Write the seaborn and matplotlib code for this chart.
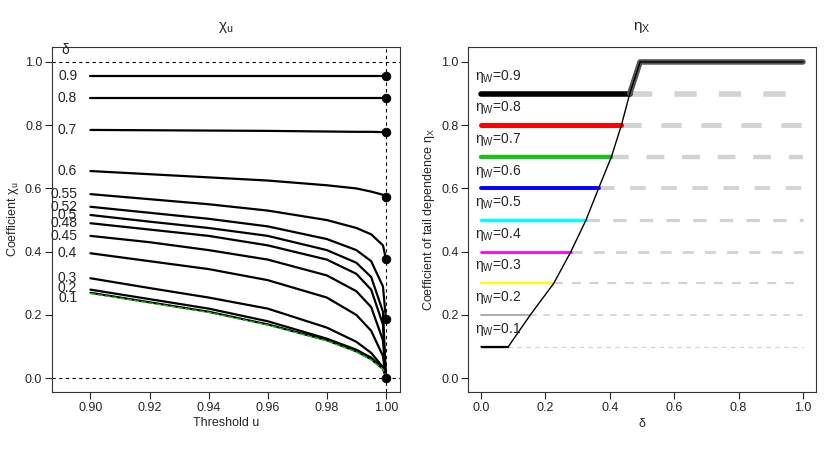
import matplotlib
matplotlib.use('Agg')
import matplotlib.pyplot as plt
import seaborn as sns

sns.set_theme(style='ticks')
plt.rcParams.update({'font.family': 'Liberation Sans', 'mathtext.fontset': 'custom',
                     'mathtext.rm': 'Liberation Sans', 'mathtext.it': 'Liberation Sans:italic',
                     'font.size': 9})

# ─── Data: left panel (chi_u vs threshold u) ─────────────────────────────────
u_grid = [0.9, 0.92, 0.94, 0.96, 0.98, 0.99, 0.995, 0.999, 1.0]
delta_labels = ['0.1', '0.2', '0.3', '0.4', '0.45', '0.48', '0.5', '0.52', '0.55', '0.6', '0.7', '0.8', '0.9']
chi_curves = [
    [0.270, 0.240, 0.210, 0.170, 0.120, 0.085, 0.060, 0.030, 0.010],
    [0.280, 0.250, 0.220, 0.180, 0.125, 0.090, 0.065, 0.030, 0.010],
    [0.316, 0.285, 0.255, 0.220, 0.160, 0.115, 0.080, 0.035, 0.000],
    [0.395, 0.370, 0.345, 0.310, 0.255, 0.200, 0.150, 0.070, 0.000],
    [0.450, 0.430, 0.405, 0.375, 0.325, 0.275, 0.225, 0.120, 0.000],
    [0.490, 0.470, 0.450, 0.420, 0.375, 0.330, 0.280, 0.170, 0.000],
    [0.516, 0.495, 0.475, 0.450, 0.405, 0.365, 0.320, 0.210, 0.000],
    [0.542, 0.523, 0.504, 0.480, 0.440, 0.405, 0.370, 0.290, 0.187],
    [0.582, 0.566, 0.550, 0.530, 0.500, 0.475, 0.455, 0.420, 0.377],
    [0.655, 0.645, 0.635, 0.625, 0.610, 0.600, 0.590, 0.580, 0.573],
    [0.785, 0.784, 0.783, 0.782, 0.780, 0.779, 0.779, 0.778, 0.778],
    [0.886, 0.886, 0.886, 0.886, 0.886, 0.886, 0.886, 0.886, 0.886],
    [0.955, 0.955, 0.955, 0.955, 0.955, 0.955, 0.955, 0.955, 0.955],
]
green_ref = [0.268, 0.238, 0.208, 0.168, 0.118, 0.083, 0.058, 0.028, 0.010]
limit_dots = [0.955, 0.886, 0.778, 0.573, 0.377, 0.187, 0.0]
label_y = [0.255, 0.285, 0.316, 0.395, 0.45, 0.49, 0.516, 0.542, 0.582, 0.655, 0.785, 0.886, 0.955]

# ─── Data: right panel (eta_X vs delta) ──────────────────────────────────────
eta_w = [0.1, 0.2, 0.3, 0.4, 0.5, 0.6, 0.7, 0.8, 0.9]
cross_delta = [0.085, 0.153, 0.226, 0.279, 0.326, 0.365, 0.405, 0.436, 0.462]
eta_colors = ['black', '#9e9e9e', 'yellow', 'magenta', 'cyan', 'blue', '#1fbf1f', 'red', 'black']
eta_curve_x = [0.0] + cross_delta + [0.494, 1.0]
eta_curve_y = [0.1] + eta_w + [1.0, 1.0]

fig = plt.figure(figsize=(8.3, 4.57), dpi=100)
ax1 = fig.add_axes([0.0627, 0.142, 0.419, 0.755])
ax2 = fig.add_axes([0.564, 0.142, 0.419, 0.755])

# left panel
for lab, vals in zip(delta_labels, chi_curves):
    sns.lineplot(x=u_grid, y=vals, ax=ax1, color='black', lw=1.6)
sns.lineplot(x=u_grid, y=green_ref, ax=ax1, color='#22bb22', lw=1, linestyle='--')
sns.scatterplot(x=[1.0] * len(limit_dots), y=limit_dots, ax=ax1, color='black', s=40, zorder=5, edgecolor='black')
ax1.axhline(0, color='black', ls=(0, (3, 3)), lw=0.8)
ax1.axhline(1, color='black', ls=(0, (3, 3)), lw=0.8)
ax1.axvline(1, color='black', ls=(0, (3, 3)), lw=0.8)
for lab, y in zip(delta_labels, label_y):
    ax1.text(0.8955, y, lab, ha='right', va='center', fontsize=10)
ax1.text(0.8915, 1.015, r'$\mathregular{\delta}$', ha='center', va='bottom', fontsize=10)
ax1.set_xlim(0.887, 1.0047)
ax1.set_ylim(-0.044, 1.047)
ax1.set_xticks([0.90, 0.92, 0.94, 0.96, 0.98, 1.00])
ax1.set_xticklabels(['0.90', '0.92', '0.94', '0.96', '0.98', '1.00'])
ax1.set_yticks([0, 0.2, 0.4, 0.6, 0.8, 1.0])
ax1.set_yticklabels(['0.0', '0.2', '0.4', '0.6', '0.8', '1.0'])
ax1.set_xlabel('Threshold u', fontsize=9, labelpad=2)
ax1.set_ylabel(r'Coefficient $\mathregular{\chi_u}$', fontsize=9, labelpad=3)
ax1.set_title(r'$\mathregular{\chi_u}$', fontsize=11, pad=12)

# right panel
for eta, xc, col in zip(eta_w, cross_delta, eta_colors):
    w = 0.8 + 3.2 * (eta - 0.1) / 0.8
    ax2.plot([xc, 1.0], [eta, eta], color='#d3d3d3', lw=w, ls=(0, (4, 4)), solid_capstyle='round')
    ax2.plot([0, xc], [eta, eta], color=col, lw=w if eta > 0.1 else 1, solid_capstyle='round')
    ax2.text(-0.02, eta + 0.055, rf'$\mathregular{{\eta_W}}$={eta}', ha='left', va='center', fontsize=10)
sns.lineplot(x=eta_curve_x[9:], y=eta_curve_y[9:], ax=ax2, color='#555555', lw=4, sort=False)
sns.lineplot(x=eta_curve_x, y=eta_curve_y, ax=ax2, color='black', lw=1, sort=False)
ax2.set_xlim(-0.04, 1.04)
ax2.set_ylim(-0.044, 1.047)
ax2.set_xticks([0, 0.2, 0.4, 0.6, 0.8, 1.0])
ax2.set_xticklabels(['0.0', '0.2', '0.4', '0.6', '0.8', '1.0'])
ax2.set_yticks([0, 0.2, 0.4, 0.6, 0.8, 1.0])
ax2.set_yticklabels(['0.0', '0.2', '0.4', '0.6', '0.8', '1.0'])
ax2.set_xlabel(r'$\mathregular{\delta}$', fontsize=9, labelpad=2)
ax2.set_ylabel(r'Coefficient of tail dependence $\mathregular{\eta_X}$', fontsize=9, labelpad=3)
ax2.set_title(r'$\mathregular{\eta_X}$', fontsize=11, pad=12)

for ax in (ax1, ax2):
    for s in ax.spines.values():
        s.set_color('#333333')
        s.set_linewidth(0.8)
    ax.tick_params(direction='out', length=5, width=0.8, labelsize=9, pad=2)

plt.savefig('out.png', dpi=100)
